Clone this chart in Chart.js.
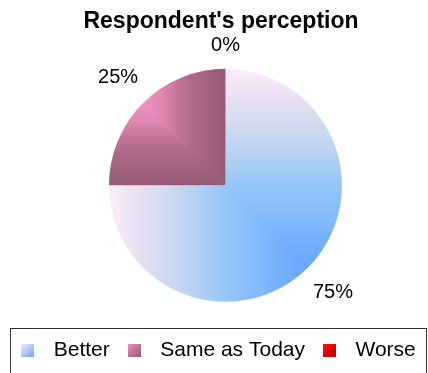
<!DOCTYPE html>
<html>
<head>
<meta charset="utf-8">
<script src="https://cdn.jsdelivr.net/npm/chart.js@4.4.1/dist/chart.umd.min.js"></script>
<style>
  html, body { margin: 0; padding: 0; background: #fff; }
</style>
</head>
<body>
<canvas id="chart" width="428" height="373"></canvas>
<script>
// data
const categories = ['Better', 'Same as Today', 'Worse'];
const shares = [75, 25, 0];
const shareLabels = ['75%', '25%', '0%'];
const chartTitle = "Respondent's perception";

Chart.defaults.font.family = '"Liberation Sans", Arial, sans-serif';
Chart.defaults.color = '#000';

const PIE_R = 116.5;
const PIE_SHIFT = 23; // pie sits right of the canvas centre

// gradient stops (t, [r,g,b])
const blueStops = [
  [0, [253, 236, 250]], [0.13, [232, 224, 242]], [0.26, [205, 218, 240]],
  [0.39, [176, 208, 242]], [0.5, [150, 198, 248]], [0.65, [128, 185, 252]],
  [0.81, [110, 169, 255]], [1, [102, 160, 255]]
];
const pinkStops = [
  [0, [248, 170, 210]], [0.3, [238, 145, 192]], [0.42, [228, 138, 182]],
  [0.55, [204, 122, 162]], [0.7, [176, 106, 140]], [0.85, [160, 98, 126]],
  [1, [150, 90, 118]]
];

function sampleStops(stops, t) {
  t = Math.max(0, Math.min(1, t));
  for (let i = 1; i < stops.length; i++) {
    if (t <= stops[i][0]) {
      const [t0, c0] = stops[i - 1], [t1, c1] = stops[i];
      const f = (t - t0) / (t1 - t0);
      return c0.map((v, k) => v + (c1[k] - v) * f);
    }
  }
  return stops[stops.length - 1][1];
}

const patternCache = {};
function slicePattern(chart, kind) {
  const a = chart.chartArea;
  if (!a) return '#ccc';
  const cx = (a.left + a.right) / 2, cy = (a.top + a.bottom) / 2;
  const key = kind + ':' + cx + ',' + cy;
  if (patternCache[key]) return patternCache[key];
  const c = document.createElement('canvas');
  c.width = chart.width; c.height = chart.height;
  const g = c.getContext('2d');
  const img = g.createImageData(c.width, c.height);
  const x0 = cx - PIE_R, y0 = cy - PIE_R;
  for (let y = 0; y < c.height; y++) {
    for (let x = 0; x < c.width; x++) {
      const dx = Math.max(0, x + 0.5 - x0), dy = Math.max(0, y + 0.5 - y0);
      const col = kind === 'blue'
        ? sampleStops(blueStops, Math.min(dx, dy) / (2 * PIE_R))
        : sampleStops(pinkStops, Math.max(dx, dy) / PIE_R);
      const o = (y * c.width + x) * 4;
      img.data[o] = col[0]; img.data[o + 1] = col[1]; img.data[o + 2] = col[2]; img.data[o + 3] = 255;
    }
  }
  g.putImageData(img, 0, 0);
  patternCache[key] = chart.ctx.createPattern(c, 'no-repeat');
  return patternCache[key];
}

function swatch(from, to) {
  const c = document.createElement('canvas');
  c.width = 13; c.height = 13;
  const g = c.getContext('2d');
  const gr = g.createLinearGradient(0, 0, 13, 13);
  gr.addColorStop(0, from);
  gr.addColorStop(1, to);
  g.fillStyle = gr;
  g.fillRect(0, 0, 13, 13);
  return c;
}
const legendSwatches = [
  swatch('#fbe6f6', '#6aa6ff'),
  swatch('#ec92c2', '#945874'),
  swatch('#ff1010', '#b80000')
];

const sliceLabels = {
  id: 'sliceLabels',
  afterDatasetsDraw(chart) {
    const ctx = chart.ctx;
    const arcs = chart.getDatasetMeta(0).data;
    ctx.save();
    ctx.font = '20px "Liberation Sans", Arial, sans-serif';
    ctx.fillStyle = '#000';
    ctx.textAlign = 'center';
    ctx.textBaseline = 'middle';
    arcs.forEach((arc, i) => {
      const p = arc.getProps(['x', 'y', 'startAngle', 'endAngle', 'outerRadius'], true);
      const mid = (p.startAngle + p.endAngle) / 2;
      const cos = Math.cos(mid), sin = Math.sin(mid);
      const hw = ctx.measureText(shareLabels[i]).width / 2, hh = 7.5;
      const d = p.outerRadius + 16 + Math.abs(cos) * hw + Math.abs(sin) * hh;
      ctx.fillText(shareLabels[i], p.x + cos * d, p.y + sin * d);
    });
    ctx.restore();
  }
};

// pie shifted right, title nudged, and a frame round the legend
const frameAndPlace = {
  id: 'frameAndPlace',
  afterLayout(chart) {
    const a = chart.chartArea;
    a.left += PIE_SHIFT;
    a.width = a.right - a.left;
    const tb = chart.titleBlock;
    tb.left = 14; tb.right = chart.width; tb.width = chart.width - 14;
  },
  afterDraw(chart) {
    const ctx = chart.ctx;
    ctx.save();
    ctx.strokeStyle = '#333';
    ctx.lineWidth = 1;
    ctx.strokeRect(10.5, 328.5, 416, 60);
    ctx.restore();
  }
};

new Chart(document.getElementById('chart'), {
  type: 'pie',
  data: {
    labels: categories,
    datasets: [{
      data: shares,
      backgroundColor: (c) => c.dataIndex === 0 ? slicePattern(c.chart, 'blue')
        : c.dataIndex === 1 ? slicePattern(c.chart, 'pink') : '#e00000',
      borderWidth: 0
    }]
  },
  options: {
    responsive: false,
    animation: false,
    radius: PIE_R,
    layout: { padding: { left: 0, right: 0, top: 0, bottom: 2 } },
    plugins: {
      title: {
        display: true,
        text: chartTitle,
        color: '#000',
        font: { size: 23, weight: 'bold' },
        padding: { top: 8, bottom: 4 }
      },
      legend: {
        position: 'bottom',
        labels: {
          usePointStyle: true,
          pointStyleWidth: 31,
          boxHeight: 13,
          padding: 9,
          color: '#000',
          font: { size: 21 },
          generateLabels: () => categories.map((c, i) => ({
            text: c,
            pointStyle: legendSwatches[i],
            fillStyle: '#000',
            strokeStyle: 'transparent',
            lineWidth: 0,
            hidden: false,
            index: i,
            datasetIndex: 0
          }))
        }
      },
      tooltip: { enabled: false }
    }
  },
  plugins: [sliceLabels, frameAndPlace]
});
</script>
</body>
</html>
